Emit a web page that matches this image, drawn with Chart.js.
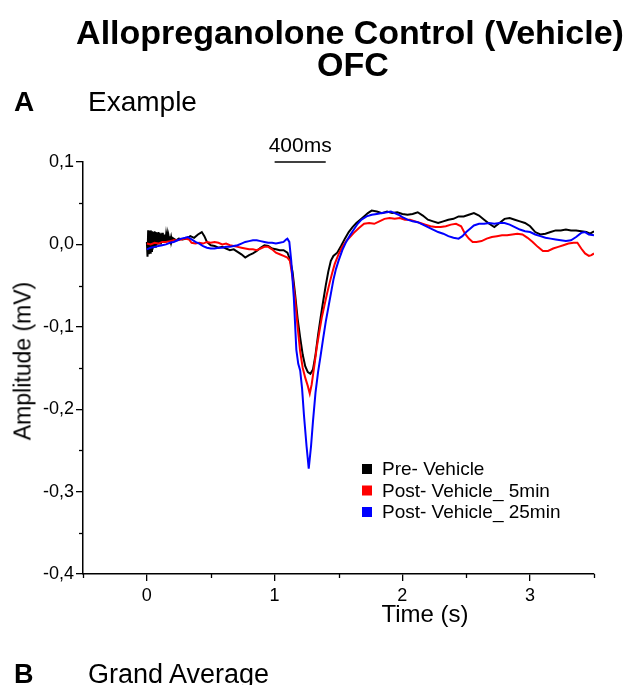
<!DOCTYPE html>
<html>
<head>
<meta charset="utf-8">
<script src="https://cdn.jsdelivr.net/npm/chart.js@4.4.1/dist/chart.umd.min.js"></script>
<style>
  html, body { margin:0; padding:0; background:#fff; }
  body { width:629px; height:685px; overflow:hidden; position:relative; font-family:"Liberation Sans", Arial, sans-serif; color:#000; }
  .t { position:absolute; line-height:1; white-space:nowrap; }
  canvas { position:absolute; left:0; top:0; }
</style>
</head>
<body>
<canvas id="c" width="629" height="685"></canvas>
<div class="t" style="left:0; width:700px; text-align:center; top:15px; font-size:34px; font-weight:bold;">Allopreganolone Control (Vehicle)</div>
<div class="t" style="left:0; width:706px; text-align:center; top:47px; font-size:34px; font-weight:bold;">OFC</div>
<div class="t" style="left:14px; top:88px; font-size:28px; font-weight:bold;">A</div>
<div class="t" style="left:88px; top:88px; font-size:28px;">Example</div>
<div class="t" style="left:14px; top:661px; font-size:27px; font-weight:bold;">B</div>
<div class="t" style="left:88px; top:661px; font-size:27px;">Grand Average</div>
<div class="t" style="left:425px; top:602px; font-size:24px; transform:translateX(-50%);">Time (s)</div>
<div class="t" style="left:23px; top:361px; font-size:23px; transform:translate(-50%,-50%) rotate(-90deg);">Amplitude (mV)</div>
<script>
// ---- data (time in s, amplitude in mV) ----
const seriesLabels = ["Pre- Vehicle", "Post- Vehicle_ 5min", "Post- Vehicle_ 25min"];
const seriesColors = ["#000000", "#ff0000", "#0000ff"];

const preT = [0.000,0.005,0.010,0.015,0.020,0.025,0.030,0.035,0.040,0.045,0.050,0.055,0.060,0.065,0.070,0.075,0.080,0.085,0.090,0.095,
  0.100,0.105,0.110,0.115,0.120,0.125,0.130,0.135,0.140,0.145,0.150,0.155,0.160,0.165,0.170,0.175,0.180,0.185,0.190,0.195,0.200,
  0.23,0.25,0.28,0.31,0.34,0.37,0.40,0.43,0.45,0.47,0.50,0.53,0.56,0.59,0.62,0.65,0.68,0.71,0.74,0.77,0.80,0.83,0.86,0.89,0.92,0.95,0.98,1.01,1.04,1.07,1.10,
  1.12,1.14,1.16,1.18,1.20,1.22,1.24,1.26,1.28,1.30,1.32,1.34,1.36,1.38,1.40,1.42,1.44,1.46,1.49,1.52,1.55,1.58,1.61,1.64,1.67,1.70,1.73,1.76,
  1.80,1.84,1.88,1.92,1.96,2.00,2.04,2.08,2.12,2.16,2.20,2.24,2.28,2.32,2.36,2.40,2.44,2.48,2.52,2.56,2.60,2.64,2.68,2.72,2.76,2.80,2.84,2.88,
  2.92,2.96,3.00,3.04,3.08,3.12,3.16,3.20,3.24,3.28,3.32,3.36,3.40,3.44,3.47,3.50];
const preV = [0.003,-0.015,0.017,-0.012,0.016,-0.010,0.017,-0.008,0.016,-0.006,0.015,-0.004,0.016,-0.003,0.015,-0.001,0.014,0.000,0.015,0.001,
  0.014,0.001,0.013,0.002,0.014,0.002,0.012,0.003,0.012,0.003,0.011,0.004,0.011,0.004,0.010,0.005,0.010,0.005,0.009,0.005,0.008,
  0.005,0.007,0.006,0.007,0.010,0.008,0.012,0.015,0.010,0.003,-0.001,-0.002,-0.004,-0.003,-0.005,-0.007,-0.006,-0.009,-0.012,-0.016,-0.013,-0.011,-0.008,-0.004,-0.001,-0.002,-0.005,-0.006,-0.007,-0.007,-0.010,
  -0.018,-0.033,-0.060,-0.090,-0.113,-0.134,-0.148,-0.155,-0.157,-0.152,-0.134,-0.110,-0.089,-0.069,-0.050,-0.033,-0.020,-0.014,-0.010,-0.002,0.007,0.015,0.021,0.026,0.030,0.034,0.038,0.041,
  0.040,0.038,0.040,0.038,0.039,0.037,0.036,0.037,0.039,0.035,0.030,0.028,0.026,0.028,0.030,0.031,0.034,0.034,0.036,0.038,0.035,0.030,0.025,0.021,0.026,0.031,0.032,0.030,
  0.028,0.026,0.022,0.015,0.012,0.013,0.015,0.017,0.017,0.018,0.017,0.017,0.016,0.015,0.013,0.016];

const post5T = [0.00,0.03,0.06,0.09,0.12,0.15,0.18,0.21,0.24,0.27,0.30,0.33,0.35,0.38,0.41,0.44,0.47,0.50,0.53,0.56,0.59,0.62,0.65,0.68,0.71,0.74,0.77,0.80,0.83,0.86,0.89,0.92,0.95,0.98,1.01,1.04,1.07,1.10,
  1.12,1.14,1.16,1.18,1.20,1.22,1.24,1.26,1.275,1.29,1.31,1.33,1.35,1.37,1.39,1.41,1.43,1.45,1.47,1.50,1.53,1.56,1.59,1.62,1.66,1.70,1.74,1.78,1.82,1.86,1.90,1.94,1.98,
  2.02,2.06,2.10,2.14,2.18,2.22,2.26,2.30,2.34,2.38,2.42,2.46,2.49,2.52,2.55,2.58,2.62,2.66,2.70,2.74,2.78,2.82,2.86,2.90,2.94,2.98,3.02,3.06,3.10,3.14,3.18,3.22,3.26,3.30,3.34,3.37,3.40,3.43,3.46,3.48,3.50];
const post5V = [0.001,0.000,0.002,0.001,0.003,0.003,0.004,0.005,0.005,0.006,0.007,0.006,0.002,0.001,0.002,0.001,0.003,0.002,0.003,0.002,0.000,0.001,-0.001,-0.002,-0.003,-0.004,-0.005,-0.006,-0.006,-0.007,-0.005,-0.003,-0.003,-0.006,-0.010,-0.012,-0.014,-0.016,
  -0.020,-0.040,-0.066,-0.100,-0.130,-0.150,-0.162,-0.172,-0.181,-0.170,-0.148,-0.125,-0.106,-0.088,-0.074,-0.060,-0.047,-0.035,-0.024,-0.012,-0.003,0.004,0.009,0.014,0.020,0.025,0.026,0.025,0.028,0.031,0.032,0.031,0.032,
  0.030,0.030,0.028,0.026,0.024,0.022,0.021,0.021,0.022,0.024,0.025,0.022,0.013,0.007,0.003,0.003,0.004,0.007,0.009,0.010,0.011,0.011,0.012,0.013,0.012,0.008,0.003,-0.003,-0.008,-0.008,-0.005,-0.003,-0.001,0.001,0.002,0.002,-0.005,-0.011,-0.014,-0.013,-0.011];

const post25T = [0.00,0.03,0.06,0.09,0.12,0.15,0.18,0.21,0.24,0.27,0.30,0.32,0.35,0.38,0.41,0.44,0.47,0.50,0.53,0.56,0.59,0.62,0.65,0.68,0.71,0.74,0.77,0.80,0.83,0.86,0.89,0.92,0.95,0.98,1.01,1.04,1.07,1.09,1.10,
  1.115,1.13,1.15,1.17,1.185,1.20,1.215,1.23,1.25,1.267,1.285,1.30,1.32,1.34,1.36,1.38,1.40,1.42,1.44,1.46,1.48,1.50,1.53,1.56,1.59,1.62,1.65,1.68,1.72,1.76,1.80,1.84,1.88,1.91,1.94,1.97,
  2.00,2.04,2.08,2.12,2.16,2.20,2.24,2.28,2.32,2.36,2.40,2.44,2.47,2.50,2.53,2.56,2.60,2.64,2.68,2.72,2.76,2.80,2.84,2.88,2.92,2.96,3.00,3.04,3.08,3.12,3.16,3.20,3.24,3.28,3.32,3.36,3.40,3.43,3.46,3.50];
const post25V = [-0.006,-0.004,-0.003,-0.002,-0.001,0.000,0.002,0.003,0.005,0.007,0.008,0.009,0.006,0.003,0.001,-0.002,-0.004,-0.005,-0.005,-0.004,-0.004,-0.003,-0.003,-0.002,-0.001,0.001,0.003,0.004,0.005,0.005,0.004,0.003,0.002,0.002,0.001,0.002,0.003,0.006,0.007,
  0.003,-0.020,-0.064,-0.128,-0.145,-0.153,-0.175,-0.208,-0.245,-0.272,-0.245,-0.215,-0.180,-0.155,-0.135,-0.114,-0.094,-0.077,-0.060,-0.043,-0.030,-0.020,-0.007,0.003,0.011,0.018,0.025,0.030,0.034,0.036,0.037,0.038,0.039,0.040,0.038,0.036,
  0.033,0.030,0.028,0.027,0.024,0.021,0.018,0.015,0.013,0.010,0.008,0.007,0.010,0.015,0.019,0.023,0.025,0.025,0.026,0.025,0.026,0.026,0.024,0.021,0.018,0.016,0.015,0.012,0.010,0.008,0.007,0.006,0.005,0.004,0.005,0.009,0.014,0.015,0.012,0.011];

// axis ranges and ticks
const xMin = -0.5, xMax = 3.5, xStep = 0.5;
const yMin = -0.4, yMax = 0.1, yStep = 0.05;
const xTickLabels = ["0", "1", "2", "3"];
// scale bar (400 ms)
const scaleBarStart = 1.0, scaleBarEnd = 1.4, scaleBarLevel = 0.1, scaleBarLabel = "400ms";

const FONT = '"Liberation Sans", Arial, sans-serif';
const toXY = (ts, vs) => ts.map((t, i) => ({x: t, y: vs[i]}));
const allT = [preT, post5T, post25T];
const allV = [preV, post5V, post25V];

const datasets = seriesLabels.map((lab, i) => ({
  label: lab,
  data: toXY(allT[i], allV[i]),
  borderColor: seriesColors[i],
  backgroundColor: seriesColors[i],
  borderWidth: 2,
  pointRadius: 0,
  tension: 0,
  fill: false,
  order: i === 0 ? 2 : (i === 1 ? 1 : 0)
}));

const isMajorLabel = l => l !== '' && l !== undefined && l !== null;

const overlay = {
  id: 'overlay',
  afterDraw(chart) {
    const ctx = chart.ctx;
    const xs = chart.scales.x, ys = chart.scales.y;
    ctx.save();
    ctx.strokeStyle = '#000';
    ctx.lineWidth = 1.3;
    // minor ticks (short)
    xs.ticks.forEach(t => {
      if (!isMajorLabel(t.label)) {
        const px = Math.round(xs.getPixelForValue(t.value)) + 0.5;
        ctx.beginPath(); ctx.moveTo(px, xs.top); ctx.lineTo(px, xs.top + 4); ctx.stroke();
      }
    });
    ys.ticks.forEach(t => {
      if (!isMajorLabel(t.label)) {
        const py = Math.round(ys.getPixelForValue(t.value)) + 0.5;
        ctx.beginPath(); ctx.moveTo(ys.right, py); ctx.lineTo(ys.right - 4, py); ctx.stroke();
      }
    });
    // scale bar
    const x0 = xs.getPixelForValue(scaleBarStart), x1 = xs.getPixelForValue(scaleBarEnd);
    const yb = ys.getPixelForValue(scaleBarLevel);
    ctx.lineWidth = 1.3;
    ctx.beginPath(); ctx.moveTo(x0, yb); ctx.lineTo(x1, yb); ctx.stroke();
    ctx.fillStyle = '#000';
    ctx.font = '21px ' + FONT;
    ctx.textAlign = 'center';
    ctx.textBaseline = 'alphabetic';
    ctx.fillText(scaleBarLabel, (x0 + x1) / 2, yb - 10);
    // legend
    ctx.font = '19px ' + FONT;
    ctx.textAlign = 'left';
    ctx.textBaseline = 'middle';
    const lx = 362, ly = 469, dy = 21.5;
    seriesLabels.forEach((lab, i) => {
      ctx.fillStyle = seriesColors[i];
      ctx.fillRect(lx, ly + i * dy - 5, 10, 10);
      ctx.fillStyle = '#000';
      ctx.fillText(lab, lx + 20, ly + i * dy + 1);
    });
    ctx.restore();
  }
};

new Chart(document.getElementById('c'), {
  type: 'line',
  data: { datasets },
  options: {
    responsive: false,
    devicePixelRatio: 1,
    animation: false,
    layout: { padding: { left: 0, right: 35, top: 162, bottom: 51 } },
    plugins: { legend: { display: false }, tooltip: { enabled: false }, title: { display: false } },
    scales: {
      x: {
        type: 'linear', min: xMin, max: xMax,
        ticks: {
          stepSize: xStep, autoSkip: false, maxRotation: 0, padding: 4, color: '#000',
          font: { size: 18, family: FONT },
          callback: v => { const s = String(Math.round(v * 10) / 10); return xTickLabels.includes(s) ? s : ''; }
        },
        grid: { drawOnChartArea: false, drawTicks: true, tickLength: 7, lineWidth: 1.3,
          color: c => (c.tick && isMajorLabel(c.tick.label)) ? '#000' : 'rgba(0,0,0,0)' },
        border: { display: true, color: '#000', width: 1.5 },
        afterFit: s => { s.height = 60; }
      },
      y: {
        type: 'linear', min: yMin, max: yMax,
        ticks: {
          stepSize: yStep, autoSkip: false, padding: 2, color: '#000',
          font: { size: 18, family: FONT },
          callback: v => { const r = Math.round(v * 100); return (r % 10 === 0) ? (r / 100).toFixed(1).replace('.', ',') : ''; }
        },
        grid: { drawOnChartArea: false, drawTicks: true, tickLength: 7, lineWidth: 1.3,
          color: c => (c.tick && isMajorLabel(c.tick.label)) ? '#000' : 'rgba(0,0,0,0)' },
        border: { display: true, color: '#000', width: 1.5 },
        afterFit: s => { s.width = 83; }
      }
    }
  },
  plugins: [overlay]
});
</script>
</body>
</html>
